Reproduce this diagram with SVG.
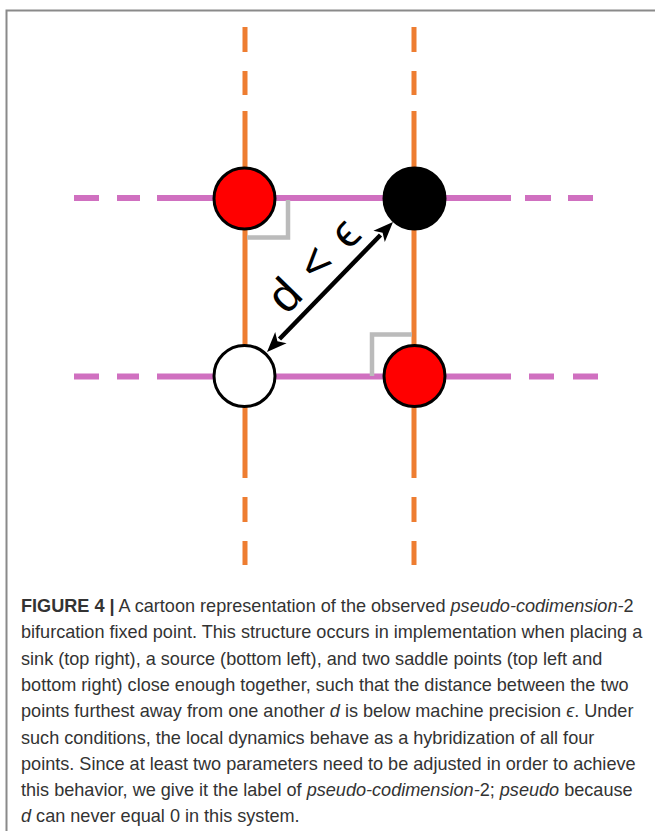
<svg xmlns="http://www.w3.org/2000/svg" width="655" height="831" viewBox="0 0 655 831">
<style>
.or{stroke:#EE7D31;stroke-width:5;fill:none}
.pk{stroke:#D070C0;stroke-width:6;fill:none}
.ang{stroke:#BBBBBB;stroke-width:4.5;fill:none}
.node{stroke:#000;stroke-width:3}
.cap{font-family:"Liberation Sans",Arial,sans-serif;font-size:18.1px;fill:#333}
.lab{font-family:"Liberation Sans",Arial,sans-serif;font-size:47px;fill:#000;word-spacing:5px}
</style>
<rect width="655" height="831" fill="#fff"/>
<path d="M6.5,831 V10.5 H655" stroke="#8a8a8a" stroke-width="2" fill="none"/>
<g id="lines">
<path class="or" d="M245,27 V52 M245,71 V95 M245,111 V478 M245,497 V522 M245,541 V565"/>
<path class="or" d="M414,27 V52 M414,71 V95 M414,111 V478 M414,497 V522 M414,541 V565"/>
<path class="pk" d="M74,198 H99 M117,198 H140 M157,198 H511 M525,198 H551 M568,198 H593"/>
<path class="pk" d="M74,376.5 H99 M117,376.5 H139 M157,376.5 H511 M529,376.5 H554 M573,376.5 H598"/>
<path class="ang" d="M247,237.5 H288 V200"/>
<path class="ang" d="M372,376 V334.5 H412"/>
</g>
<g id="connectors">
<line x1="279.5" y1="339" x2="380.5" y2="235" stroke="#000" stroke-width="4.5"/>
<polygon points="393,222 384.8,242 382.6,232.8 373.4,230.8" fill="#000"/>
<polygon points="267,352 286.6,343.2 277.4,341.2 275.2,332" fill="#000"/>
<text class="lab" transform="translate(325,276) rotate(-46)" text-anchor="middle">d &lt; ϵ</text>
</g>
<g id="saddle-top-left"><circle class="node" cx="244.5" cy="198.5" r="30.5" fill="#FF0000"/></g>
<g id="sink-top-right"><circle class="node" cx="414.5" cy="198.5" r="30.5" fill="#000"/></g>
<g id="source-bottom-left"><circle class="node" cx="244.5" cy="376" r="30.5" fill="#fff"/></g>
<g id="saddle-bottom-right"><circle class="node" cx="414.5" cy="376" r="30.5" fill="#FF0000"/></g>
<g id="caption" class="cap">
<text x="21" y="612"><tspan font-weight="bold">FIGURE 4 |</tspan> A cartoon representation of the observed <tspan font-style="italic">pseudo-codimension-</tspan>2</text>
<text x="21" y="638.3">bifurcation fixed point. This structure occurs in implementation when placing a</text>
<text x="21" y="664.6">sink (top right), a source (bottom left), and two saddle points (top left and</text>
<text x="21" y="690.9">bottom right) close enough together, such that the distance between the two</text>
<text x="21" y="717.2">points furthest away from one another <tspan font-style="italic">d</tspan> is below machine precision <tspan font-style="italic">ϵ</tspan>. Under</text>
<text x="21" y="743.5">such conditions, the local dynamics behave as a hybridization of all four</text>
<text x="21" y="769.8">points. Since at least two parameters need to be adjusted in order to achieve</text>
<text x="21" y="796.1">this behavior, we give it the label of <tspan font-style="italic">pseudo-codimension-</tspan>2; <tspan font-style="italic">pseudo</tspan> because</text>
<text x="21" y="822.4"><tspan font-style="italic">d</tspan> can never equal 0 in this system.</text>
</g>
</svg>
